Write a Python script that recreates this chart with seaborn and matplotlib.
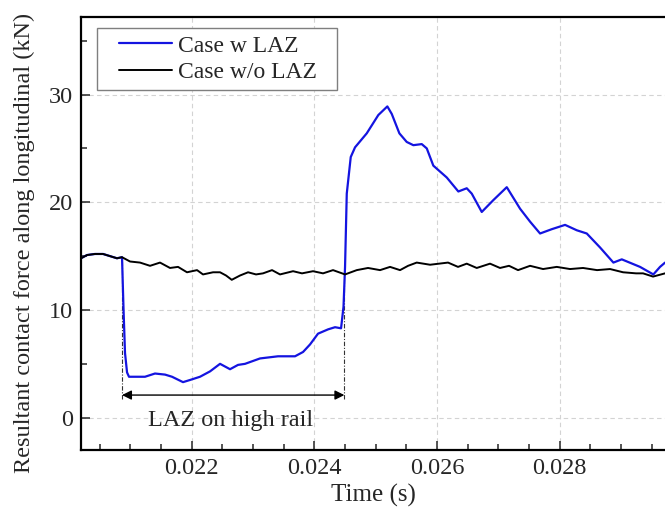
import numpy as np
import pandas as pd
import matplotlib
matplotlib.use('Agg')
import matplotlib.pyplot as plt
import matplotlib.patches as patches
from matplotlib.ticker import MultipleLocator, FormatStrFormatter
import seaborn as sns

# data (time in s, force in kN)
t_wo = [0.020194, 0.020292, 0.020423, 0.020553, 0.020667, 0.020781, 0.020863, 0.020994,
        0.021157, 0.021320, 0.021483, 0.021646, 0.021777, 0.021923, 0.022087, 0.022184,
        0.022348, 0.022462, 0.022560, 0.022653, 0.022788, 0.022919, 0.023049, 0.023163,
        0.023310, 0.023440, 0.023653, 0.023799, 0.023979, 0.024142, 0.024305, 0.024501,
        0.024692, 0.024876, 0.025072, 0.025235, 0.025398, 0.025529, 0.025670, 0.025888,
        0.026181, 0.026344, 0.026486, 0.026649, 0.026866, 0.027029, 0.027176, 0.027323,
        0.027519, 0.027731, 0.027954, 0.028171, 0.028383, 0.028612, 0.028824, 0.029036,
        0.029248, 0.029362, 0.029525, 0.029721]
f_wo = [14.8, 15.1, 15.2, 15.2, 15.0, 14.8, 14.9, 14.5,
        14.4, 14.1, 14.4, 13.9, 14.0, 13.5, 13.7, 13.3,
        13.5, 13.5, 13.2, 12.8, 13.2, 13.5, 13.3, 13.4,
        13.7, 13.3, 13.6, 13.4, 13.6, 13.4, 13.7, 13.3,
        13.7, 13.9, 13.7, 14.0, 13.7, 14.1, 14.4, 14.2,
        14.4, 14.0, 14.3, 13.9, 14.3, 13.9, 14.1, 13.7,
        14.1, 13.8, 14.0, 13.8, 13.9, 13.7, 13.8, 13.5,
        13.4, 13.4, 13.1, 13.4]

t_w = [0.020194, 0.020292, 0.020423, 0.020553, 0.020667, 0.020781, 0.020863, 0.020888,
       0.020912, 0.020945, 0.020977, 0.021075, 0.021238, 0.021401, 0.021565, 0.021679,
       0.021858, 0.021972, 0.022135, 0.022299, 0.022462, 0.022625, 0.022755, 0.022870,
       0.023114, 0.023408, 0.023685, 0.023816, 0.023930, 0.024060, 0.024224, 0.024338,
       0.024436, 0.024476, 0.024501, 0.024529, 0.024594, 0.024664, 0.024855, 0.025044,
       0.025191, 0.025263, 0.025387, 0.025507, 0.025615, 0.025752, 0.025834, 0.025941,
       0.026160, 0.026349, 0.026486, 0.026568, 0.026731, 0.026920, 0.027139, 0.027356,
       0.027519, 0.027682, 0.027873, 0.028090, 0.028281, 0.028444, 0.028661, 0.028878,
       0.029015, 0.029313, 0.029530, 0.029639, 0.029721]
f_w = [14.8, 15.1, 15.2, 15.2, 15.0, 14.8, 14.9, 10.0,
       6.0, 4.2, 3.8, 3.8, 3.8, 4.1, 4.0, 3.8,
       3.3, 3.5, 3.8, 4.3, 5.0, 4.5, 4.9, 5.0,
       5.5, 5.7, 5.7, 6.1, 6.8, 7.8, 8.2, 8.4,
       8.3, 10.3, 14.0, 20.8, 24.2, 25.1, 26.4, 28.1,
       28.9, 28.2, 26.4, 25.6, 25.3, 25.4, 25.0, 23.4,
       22.3, 21.0, 21.3, 20.8, 19.1, 20.2, 21.4, 19.4,
       18.2, 17.1, 17.5, 17.9, 17.4, 17.1, 15.8, 14.4,
       14.7, 14.0, 13.3, 14.0, 14.4]

laz_start = 0.020863
laz_end = 0.024490

sns.set_style('ticks')
plt.rcParams['font.family'] = ['Liberation Serif', 'DejaVu Sans']

fig = plt.figure(figsize=(6.65, 5.13), dpi=100)
ax = fig.add_axes([81 / 665, 63 / 513, 584 / 665, 433 / 513])

ax.grid(True, ls=(0, (4, 3)), color='#d3d3d3', lw=0.8, zorder=0)

sns.lineplot(x=t_w, y=f_w, ax=ax, color='#1414e0', lw=1.6, estimator=None, sort=False,
             label='Case w LAZ', zorder=2)
sns.lineplot(x=t_wo, y=f_wo, ax=ax, color='black', lw=1.4, estimator=None, sort=False,
             label='Case w/o LAZ', zorder=3)

# LAZ markers
ax.plot([laz_start, laz_start], [1.7, 14.8], color='#333333', lw=0.8,
        dashes=(4, 1.5, 1, 1.5), zorder=1)
ax.plot([laz_end, laz_end], [1.7, 13.4], color='#333333', lw=0.8,
        dashes=(4, 1.5, 1, 1.5), zorder=1)
ax.annotate('', xy=(laz_end, 2.1), xytext=(laz_start, 2.1),
            arrowprops=dict(arrowstyle='<|-|>', color='black', lw=1.0,
                            mutation_scale=14, shrinkA=0, shrinkB=0))
ax.text((laz_start + laz_end) / 2 - 0.00005, -0.25, 'LAZ on high rail',
        ha='center', va='center', fontsize=17.5)

ax.set_xlim(0.020194, 0.02972)
ax.set_ylim(-3.0, 37.2)
ax.xaxis.set_major_locator(MultipleLocator(0.002))
ax.xaxis.set_minor_locator(MultipleLocator(0.0005))
ax.xaxis.set_major_formatter(FormatStrFormatter('%.3f'))
ax.yaxis.set_major_locator(MultipleLocator(10))
ax.yaxis.set_minor_locator(MultipleLocator(5))
ax.tick_params(which='both', direction='in', width=1.1, labelsize=17.5, top=False, right=False)
ax.tick_params(which='major', length=6.5, pad=6)
ax.tick_params(which='minor', length=4.3)

for s in ['left', 'bottom', 'top']:
    ax.spines[s].set_linewidth(1.6)
    ax.spines[s].set_color('black')
ax.spines['right'].set_visible(False)

ax.set_xlabel('Time (s)', fontsize=18, labelpad=3)
ax.set_ylabel('Resultant contact force along longitudinal (kN)', fontsize=17.5)
ax.yaxis.set_label_coords(-0.079, 0.478)

# legend with a hand-placed frame
ax.add_patch(patches.Rectangle((16 / 584, 360 / 433), 240 / 584, 62 / 433,
                               transform=ax.transAxes, facecolor='white',
                               edgecolor='#7f7f7f', lw=1.0, zorder=4))
leg = ax.legend(loc='upper left', bbox_to_anchor=(38 / 584, 415 / 433), frameon=False,
                borderpad=0, borderaxespad=0, handlelength=2.25, handletextpad=0.25,
                labelspacing=0.22, fontsize=17)
leg.set_zorder(5)

fig.savefig('out.png', dpi=100)
